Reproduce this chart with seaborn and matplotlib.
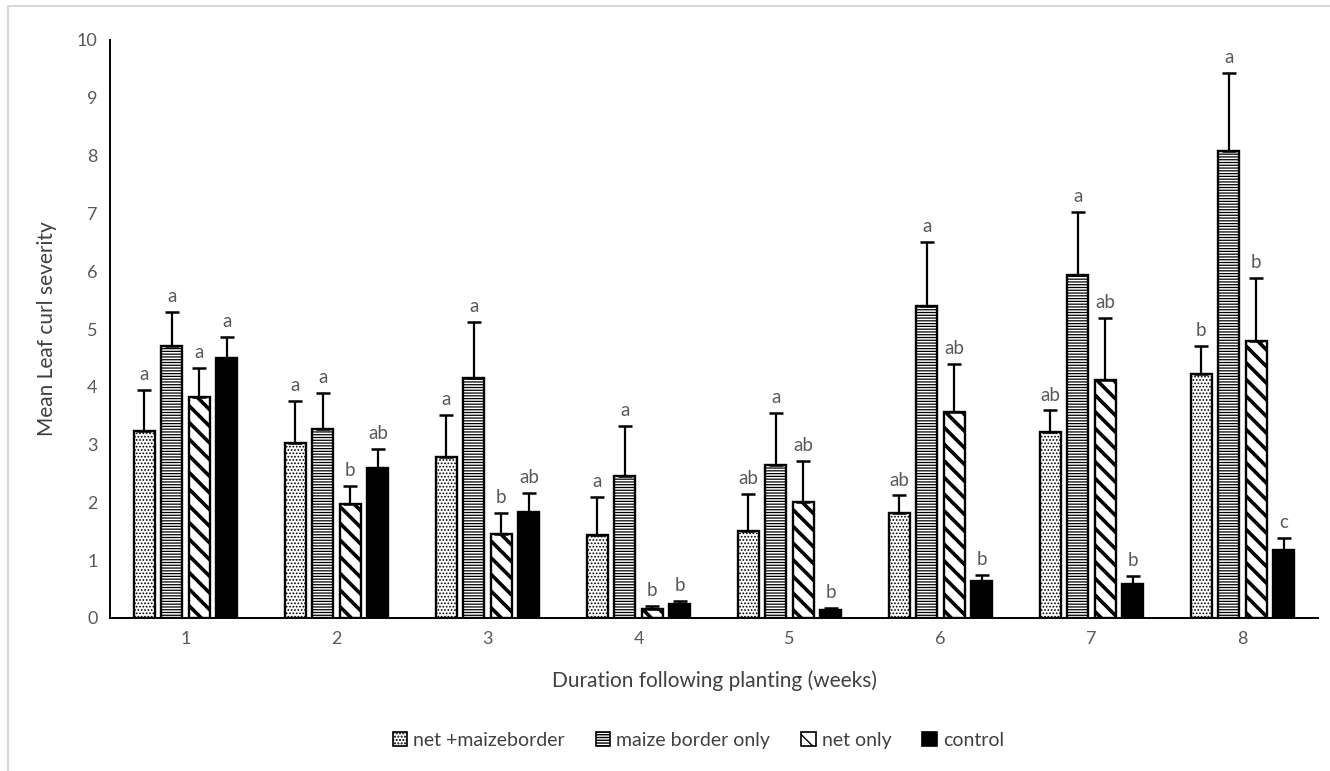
import numpy as np
import pandas as pd
import seaborn as sns
import matplotlib
matplotlib.use("Agg")
import matplotlib.pyplot as plt
from matplotlib.patches import Patch
from matplotlib.lines import Line2D

weeks = ["1", "2", "3", "4", "5", "6", "7", "8"]
series = ["net +maizeborder", "maize border only", "net only", "control"]

net_maize = [3.24, 3.03, 2.79, 1.44, 1.51, 1.82, 3.21, 4.23]
net_maize_err = [0.70, 0.72, 0.72, 0.65, 0.64, 0.30, 0.38, 0.48]
maize_only = [4.70, 3.27, 4.15, 2.46, 2.65, 5.40, 5.93, 8.08]
maize_only_err = [0.59, 0.62, 0.97, 0.87, 0.89, 1.10, 1.09, 1.35]
net_only = [3.82, 1.97, 1.45, 0.16, 2.01, 3.56, 4.12, 4.79]
net_only_err = [0.50, 0.31, 0.37, 0.04, 0.70, 0.83, 1.07, 1.10]
control = [4.49, 2.60, 1.84, 0.24, 0.14, 0.64, 0.59, 1.17]
control_err = [0.38, 0.32, 0.33, 0.05, 0.04, 0.11, 0.14, 0.21]

net_maize_letters = ["a", "a", "a", "a", "ab", "ab", "ab", "b"]
maize_only_letters = ["a", "a", "a", "a", "a", "a", "a", "a"]
net_only_letters = ["a", "b", "b", "b", "ab", "ab", "ab", "b"]
control_letters = ["a", "ab", "ab", "b", "b", "b", "b", "c"]

values = [net_maize, maize_only, net_only, control]
errors = [net_maize_err, maize_only_err, net_only_err, control_err]
letters = [net_maize_letters, maize_only_letters, net_only_letters, control_letters]
hatches = [".....", "------", "\\\\", ""]
facecolors = ["white", "white", "white", "black"]
hatch_lw = [0.8, 0.9, 2.6, 1.0]

rows = []
for s, vals in zip(series, values):
    for w, v in zip(weeks, vals):
        rows.append({"week": w, "series": s, "value": v})
df = pd.DataFrame(rows)

sns.set_theme(style="white")
plt.rcParams["font.family"] = ["Lato", "DejaVu Sans"]
plt.rcParams["hatch.linewidth"] = 1.0

fig = plt.figure(figsize=(13.3, 7.71), dpi=100)
ax = fig.add_axes([110 / 1330, 1 - 618 / 771, 1208 / 1330, 578 / 771])

sns.barplot(data=df, x="week", y="value", hue="series", order=weeks,
            hue_order=series, width=0.73, gap=0.23, ax=ax,
            palette=["white"] * 4, edgecolor="black", linewidth=1.7,
            legend=False, errorbar=None)

text_gray = "#595959"
bar_containers = list(ax.containers)
for i, cont in enumerate(bar_containers):
    for j, bar in enumerate(cont):
        bar.set_facecolor(facecolors[i])
        bar.set_hatch(hatches[i])
        bar.set_edgecolor("black")
        if hasattr(bar, "set_hatch_linewidth"):
            bar.set_hatch_linewidth(hatch_lw[i])
        x = bar.get_x() + bar.get_width() / 2
        h = bar.get_height()
        e = errors[i][j]
        ax.errorbar([x], [h], yerr=[[0], [e]], fmt="none", ecolor="black",
                    elinewidth=1.6, capsize=5, capthick=1.8, zorder=3)
        ax.annotate(letters[i][j], (x, h + e), xytext=(0, 5),
                    textcoords="offset points", ha="center", va="bottom",
                    fontsize=13.5, color=text_gray)

ax.set_ylim(0, 10)
ax.set_yticks(range(0, 11))
ax.set_xlim(-0.5, 7.5)
ax.tick_params(axis="both", length=0, labelsize=13, colors=text_gray, pad=9)
ax.set_xlabel("Duration following planting (weeks)", fontsize=15,
              color="#404040", labelpad=17)
ax.set_ylabel("Mean Leaf curl severity", fontsize=15, color="#404040",
              labelpad=14)
for sp in ["top", "right"]:
    ax.spines[sp].set_visible(False)
for sp in ["left", "bottom"]:
    ax.spines[sp].set_color("black")
    ax.spines[sp].set_linewidth(1.4)

handles = []
for i in range(4):
    handles.append(Patch(facecolor=facecolors[i], edgecolor="black",
                         hatch=hatches[i], linewidth=1.2, label=series[i]))
fig.legend(handles=handles, loc="center", bbox_to_anchor=(0.525, 0.04),
           ncol=4, frameon=False, fontsize=14, handlelength=0.75,
           handleheight=0.75, handletextpad=0.3, columnspacing=1.6,
           labelcolor="#404040")

fig.add_artist(Line2D([8 / 1330, 8 / 1330], [0, 1 - 6 / 771],
                      transform=fig.transFigure, color="#d9d9d9", lw=1.5))
fig.add_artist(Line2D([8 / 1330, 1], [1 - 6 / 771, 1 - 6 / 771],
                      transform=fig.transFigure, color="#d9d9d9", lw=1.5))

fig.savefig("out.png", dpi=100)
